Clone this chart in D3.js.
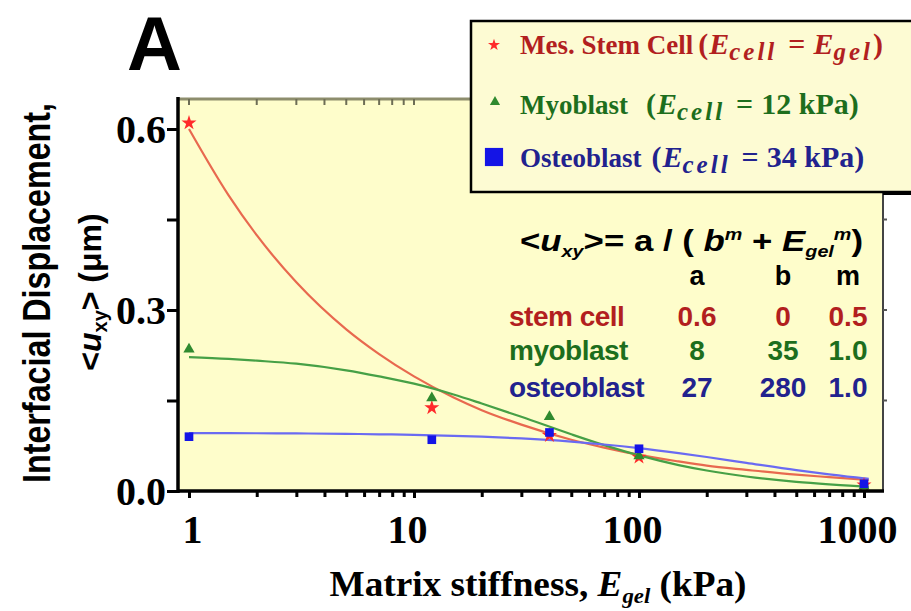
<!DOCTYPE html>
<html><head><meta charset="utf-8">
<script src="https://cdn.jsdelivr.net/npm/d3@7"></script>
<style>body{margin:0;background:#fff}svg{display:block}</style>
</head><body><svg id="c" width="911" height="611"></svg>
<script>
// ---- data ----
const stiffness = [1, 12, 40, 100, 1000];
const stemCell   = [0.610, 0.138, 0.092, 0.056, 0.010];
const myoblast   = [0.235, 0.154, 0.123, 0.058, 0.008];
const osteoblast = [0.090, 0.085, 0.097, 0.070, 0.012];

// fitted curves as drawn
const fitE      = [1, 1.5, 2, 3, 5, 7, 10, 15, 20, 30, 50, 70, 100, 150, 200, 300, 500, 700, 1000, 1050];
const fitStem   = [0.600, 0.490, 0.424, 0.346, 0.268, 0.227, 0.190, 0.155, 0.134, 0.110, 0.085, 0.072, 0.060, 0.049, 0.042, 0.035, 0.027, 0.023, 0.019, 0.0185];
const fitMyo    = [0.222, 0.219, 0.216, 0.211, 0.200, 0.190, 0.178, 0.160, 0.145, 0.123, 0.094, 0.076, 0.059, 0.043, 0.034, 0.024, 0.015, 0.011, 0.0077, 0.0074];
const fitOsteo  = [0.096, 0.096, 0.0957, 0.0954, 0.0947, 0.094, 0.0931, 0.0915, 0.090, 0.0871, 0.0818, 0.0771, 0.0711, 0.0628, 0.0563, 0.0466, 0.0346, 0.0276, 0.0211, 0.0203];

const xTickValues = [1, 10, 100, 1000];
const xTickLabels = ["1", "10", "100", "1000"];
const xMinorTicks = [2,3,4,5,6,7,8,9,20,30,40,50,60,70,80,90,200,300,400,500,600,700,800,900];
const topTicks = [1,2,3,4,5,6,7,8,9,10];
const yTickValues = [0, 0.3, 0.6];
const yTickLabels = ["0.0", "0.3", "0.6"];
const yMinorTicks = [0.15, 0.45];
const rightTicks = [0.15, 0.3, 0.45];

const tableNames = ["stem cell", "myoblast", "osteoblast"];
const tableA = ["0.6", "8", "27"];
const tableB = ["0", "35", "280"];
const tableM = ["0.5", "1.0", "1.0"];
const tableHeader = ["a", "b", "m"];

// ---- styles ----
const RED_TXT = "#b21f1f", RED_MK = "#ff2a2a", RED_LN = "#e8694f";
const GRN_TXT = "#1d6e1d", GRN_MK = "#2f8a2f", GRN_LN = "#46a046";
const BLU_TXT = "#22228e", BLU_MK = "#1414e6", BLU_LN = "#6a6af2";

const svg = d3.select("#c");
const L = 178, R = 883, T = 99, B = 491;

const x = d3.scaleLog().domain([1, 1000]).range([189, 864]);
const y = d3.scaleLinear().domain([0, 0.6]).range([B, 129]);

// plot background
svg.append("rect").attr("x", L).attr("y", T).attr("width", R - L).attr("height", B - T).attr("fill", "#fefdcb");

// top axis (olive)
svg.append("line").attr("x1", L).attr("x2", R).attr("y1", T).attr("y2", T).attr("stroke", "#8d8d6d").attr("stroke-width", 3);
svg.append("g").selectAll("line").data(topTicks).join("line")
  .attr("x1", d => x(d)).attr("x2", d => x(d)).attr("y1", T).attr("y2", T + 6)
  .attr("stroke", "#6d6d55").attr("stroke-width", 2);

// right axis
svg.append("line").attr("x1", R).attr("x2", R).attr("y1", T).attr("y2", B).attr("stroke", "#444").attr("stroke-width", 2);
svg.append("g").selectAll("line").data(rightTicks).join("line")
  .attr("x1", R).attr("x2", R + 4).attr("y1", d => y(d)).attr("y2", d => y(d))
  .attr("stroke", "#555").attr("stroke-width", 2);

// fitted curves
const curves = [[fitStem, RED_LN], [fitMyo, GRN_LN], [fitOsteo, BLU_LN]];
const line = d3.line().curve(d3.curveMonotoneX);
curves.forEach(([vals, col]) => {
  svg.append("path")
    .attr("d", line(fitE.map((e, i) => [x(e), y(vals[i])])))
    .attr("fill", "none").attr("stroke", col).attr("stroke-width", 2.2);
});

// data markers
const star = d3.symbol(d3.symbolStar).size(70);
const tri = d3.symbol(d3.symbolTriangle).size(55);
const sq = d3.symbol(d3.symbolSquare).size(75);
svg.append("g").selectAll("path").data(stiffness).join("path")
  .attr("d", star).attr("transform", (d, i) => `translate(${x(d)},${y(stemCell[i])})`).attr("fill", RED_MK);
svg.append("g").selectAll("path").data(stiffness).join("path")
  .attr("d", tri).attr("transform", (d, i) => `translate(${x(d)},${y(myoblast[i])})`).attr("fill", GRN_MK);
svg.append("g").selectAll("path").data(stiffness).join("path")
  .attr("d", sq).attr("transform", (d, i) => `translate(${x(d)},${y(osteoblast[i])})`).attr("fill", BLU_MK);

// bottom axis
const xAxis = d3.axisBottom(x).tickValues(xTickValues).tickFormat((d, i) => xTickLabels[i]).tickSize(7).tickPadding(17);
const gx = svg.append("g").attr("transform", `translate(0,${B})`).call(xAxis);
gx.select(".domain").remove();
gx.selectAll(".tick line").attr("stroke", "#000").attr("stroke-width", 3);
gx.selectAll(".tick text").attr("font-family", "Liberation Serif, serif").attr("font-weight", "bold")
  .attr("font-size", 40).attr("fill", "#000").attr("dx", (d) => d === 1 ? 3 : -7);
const gxm = svg.append("g").attr("transform", `translate(0,${B})`)
  .call(d3.axisBottom(x).tickValues(xMinorTicks).tickFormat("").tickSize(6));
gxm.select(".domain").remove();
gxm.selectAll(".tick line").attr("stroke", "#000").attr("stroke-width", 3);
svg.append("line").attr("x1", L - 1).attr("x2", R + 1).attr("y1", B).attr("y2", B).attr("stroke", "#000").attr("stroke-width", 3.5);

// left axis
const yAxis = d3.axisLeft(y).tickValues(yTickValues).tickFormat((d, i) => yTickLabels[i]).tickSize(11).tickPadding(1);
const gy = svg.append("g").attr("transform", `translate(${L},0)`).call(yAxis);
gy.select(".domain").remove();
gy.selectAll(".tick line").attr("stroke", "#000").attr("stroke-width", 3);
gy.selectAll(".tick text").attr("font-family", "Liberation Serif, serif").attr("font-weight", "bold")
  .attr("font-size", 40).attr("fill", "#000").attr("dy", "0.34em");
const gym = svg.append("g").attr("transform", `translate(${L},0)`)
  .call(d3.axisLeft(y).tickValues(yMinorTicks).tickFormat("").tickSize(11));
gym.select(".domain").remove();
gym.selectAll(".tick line").attr("stroke", "#000").attr("stroke-width", 3);
svg.append("line").attr("x1", L).attr("x2", L).attr("y1", T - 2).attr("y2", B + 2).attr("stroke", "#000").attr("stroke-width", 3.5);

// panel letter
svg.append("text").attr("x", 127).attr("y", 70).attr("font-family", "Liberation Sans, Arial, sans-serif")
  .attr("font-weight", "bold").attr("font-size", 76).attr("fill", "#000").text("A");

// y axis title
svg.append("text").attr("transform", "translate(50,293) rotate(-90)")
  .attr("text-anchor", "middle").attr("font-family", "Liberation Sans, Arial, sans-serif")
  .attr("font-weight", "bold").attr("font-size", 39).attr("fill", "#000")
  .attr("textLength", 380).attr("lengthAdjust", "spacingAndGlyphs")
  .text("Interfacial Displacement,");
const yt2 = svg.append("text").attr("transform", "translate(101,292) rotate(-90)")
  .attr("text-anchor", "middle").attr("font-family", "Liberation Sans, Arial, sans-serif")
  .attr("font-weight", "bold").attr("font-size", 32).attr("fill", "#000");
yt2.append("tspan").text("<");
yt2.append("tspan").attr("font-style", "italic").text("u");
yt2.append("tspan").attr("font-size", 20).attr("dy", 6).text("xy");
yt2.append("tspan").attr("dy", -6).text(">  (μm)");

// x axis title
const xt = svg.append("text").attr("x", 538).attr("y", 596).attr("text-anchor", "middle")
  .attr("font-family", "Liberation Serif, serif").attr("font-weight", "bold").attr("font-size", 36).attr("fill", "#000")
  .attr("textLength", 417).attr("lengthAdjust", "spacingAndGlyphs");
xt.append("tspan").text("Matrix stiffness, ");
xt.append("tspan").attr("font-style", "italic").text("E");
xt.append("tspan").attr("font-size", 22).attr("dy", 7).attr("font-style", "italic").text("gel");
xt.append("tspan").attr("dy", -7).text(" (kPa)");

// equation + table
const SANS = "Liberation Sans, Arial, sans-serif";
const eq = svg.append("text").attr("x", 520).attr("y", 251).attr("font-family", SANS)
  .attr("font-weight", "bold").attr("font-size", 30).attr("fill", "#000")
  .attr("textLength", 343).attr("lengthAdjust", "spacingAndGlyphs");
eq.append("tspan").text("<");
eq.append("tspan").attr("font-style", "italic").text("u");
eq.append("tspan").attr("font-size", 17).attr("dy", 6).attr("font-style", "italic").text("xy");
eq.append("tspan").attr("dy", -6).text(">= a / ( ");
eq.append("tspan").attr("font-style", "italic").text("b");
eq.append("tspan").attr("font-size", 17).attr("dy", -11).attr("font-style", "italic").text("m");
eq.append("tspan").attr("dy", 11).text(" + ");
eq.append("tspan").attr("font-style", "italic").text("E");
eq.append("tspan").attr("font-size", 17).attr("dy", 6).attr("font-style", "italic").text("gel");
eq.append("tspan").attr("font-size", 17).attr("dy", -17).attr("font-style", "italic").text("m");
eq.append("tspan").attr("dy", 11).text(")");

const colX = [697, 783, 848];
svg.append("g").selectAll("text").data(tableHeader).join("text")
  .attr("x", (d, i) => colX[i]).attr("y", 285).attr("text-anchor", "middle")
  .attr("font-family", SANS).attr("font-weight", "bold").attr("font-size", 27).attr("fill", "#000").text(d => d);

const rowY = [326, 360, 397];
const rowCol = [RED_TXT, GRN_TXT, BLU_TXT];
tableNames.forEach((nm, i) => {
  const g = svg.append("g").attr("font-family", SANS).attr("font-weight", "bold").attr("font-size", 28).attr("fill", rowCol[i]);
  g.append("text").attr("x", 509).attr("y", rowY[i]).attr("letter-spacing", -0.5).text(nm);
  [tableA[i], tableB[i], tableM[i]].forEach((v, j) => {
    g.append("text").attr("x", colX[j]).attr("y", rowY[i]).attr("text-anchor", "middle").text(v);
  });
});

// legend box
svg.append("rect").attr("x", 883).attr("y", 191).attr("width", 40).attr("height", 4).attr("fill", "#000");
svg.append("rect").attr("x", 471).attr("y", 21).attr("width", 460).attr("height", 171)
  .attr("fill", "#fdfbd3").attr("stroke", "#000").attr("stroke-width", 2.5);

const SERIF = "Liberation Serif, 'Times New Roman', serif";
svg.append("path").attr("d", d3.symbol(d3.symbolStar).size(45)).attr("transform", "translate(494,45)").attr("fill", RED_MK);
svg.append("path").attr("d", d3.symbol(d3.symbolTriangle).size(45)).attr("transform", "translate(495,102)").attr("fill", GRN_MK);
svg.append("path").attr("d", d3.symbol(d3.symbolSquare).size(330)).attr("transform", "translate(494,157)").attr("fill", BLU_MK);

function legendRow(yb, col, name, gap, tail) {
  const t = svg.append("text").attr("x", 520).attr("y", yb).attr("font-family", SERIF).attr("font-weight", "bold")
    .attr("font-size", 27).attr("fill", col);
  t.append("tspan").text(name);
  const p = t.append("tspan").attr("font-size", 30);
  p.append("tspan").attr("dx", gap).text("(");
  p.append("tspan").attr("font-style", "italic").attr("dx", 1).text("E");
  p.append("tspan").attr("font-style", "italic").attr("font-size", 25).attr("letter-spacing", 3).attr("dy", 6).text("cell");
  p.append("tspan").attr("dy", -6).attr("dx", 11).text("=");
  tail(p);
}
legendRow(54, RED_TXT, "Mes. Stem Cell", 5, t => {
  t.append("tspan").attr("font-style", "italic").attr("dx", 8).text("E");
  t.append("tspan").attr("font-style", "italic").attr("font-size", 25).attr("letter-spacing", 3).attr("dy", 6).text("gel");
  t.append("tspan").attr("dy", -6).text(")");
});
legendRow(114, GRN_TXT, "Myoblast", 18, t => { t.append("tspan").attr("dx", 8).text("12 kPa)"); });
legendRow(167, BLU_TXT, "Osteoblast", 10, t => { t.append("tspan").attr("dx", 8).text("34 kPa)"); });
</script></body></html>
